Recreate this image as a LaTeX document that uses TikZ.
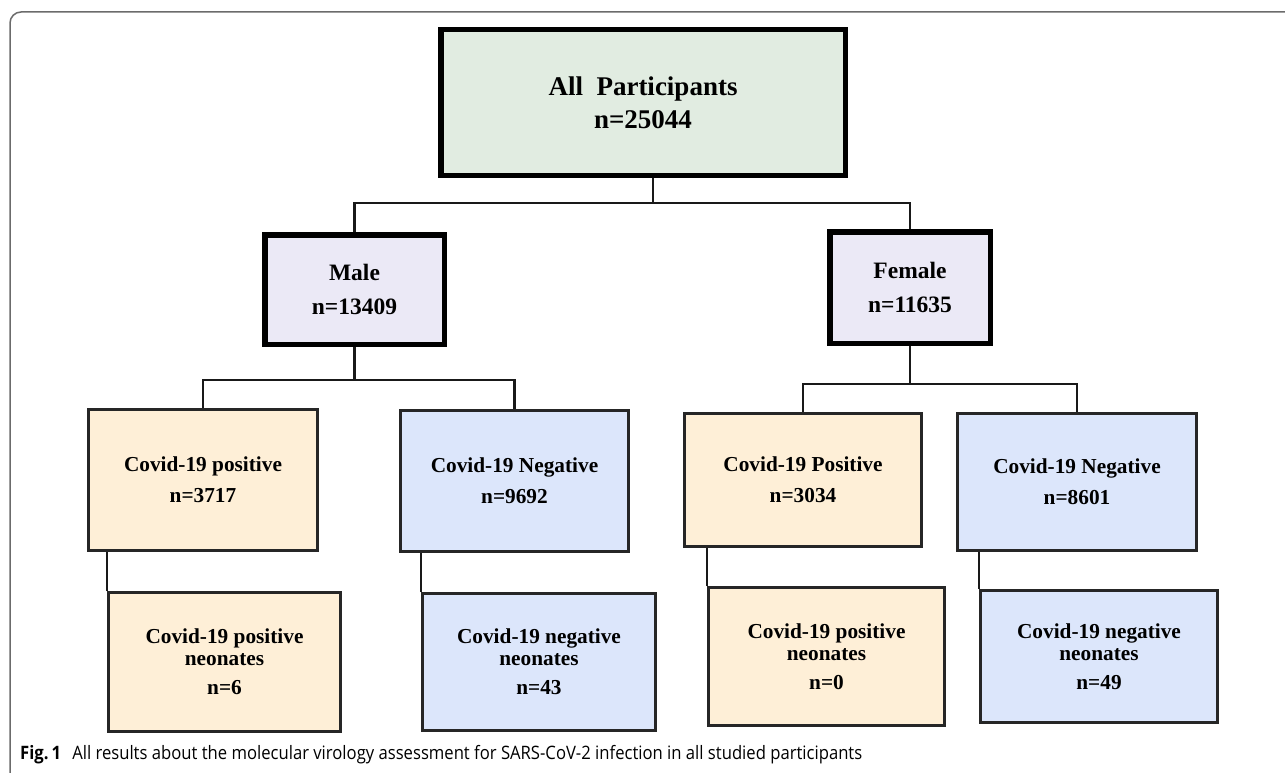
\documentclass[tikz,border=0pt]{standalone}
\usepackage{fontspec}
\setmainfont{Liberation Serif}
\newfontfamily\capfont[FakeStretch=0.9]{Open Sans}
\usetikzlibrary{calc}

\definecolor{allgreen}{HTML}{E1ECE1}
\definecolor{sexlav}{HTML}{EBE9F6}
\definecolor{pospeach}{HTML}{FEEFD7}
\definecolor{negblue}{HTML}{DCE6FB}
\definecolor{framegray}{HTML}{6B6B6B}

\begin{document}
\begin{tikzpicture}[x=1pt, y=-1pt,
  heavy/.style={draw=black, line width=5.5pt, inner sep=0pt, align=center},
  plain/.style={draw=black!85, line width=3pt, inner sep=0pt, align=center,
    font=\fontsize{21.3}{25}\selectfont\bfseries},
  link/.style={line width=2.7pt, black!90}]
  \useasboundingbox (0,0) rectangle (1285,773);

  % Figure frame (only top and left edges show)
  \draw[framegray, line width=1.5pt, rounded corners=11pt] (10,790) -- (10,12) -- (1300,12);

  % Top level
  \node[heavy, fill=allgreen, minimum width=404.5, minimum height=145.5,
    font=\fontsize{27}{33}\selectfont\bfseries] (all) at (643,102.5) {All\ \ Participants\\n=25044};

  % Sex
  \node[heavy, fill=sexlav, minimum width=179.5, minimum height=109.5,
    font=\fontsize{23.5}{28}\selectfont\bfseries] (male) at (354.5,289.5) {Male\\[6pt]n=13409};
  \node[heavy, fill=sexlav, minimum width=160.5, minimum height=111.5,
    font=\fontsize{23.5}{28}\selectfont\bfseries] (female) at (910,287.5) {Female\\[6pt]n=11635};

  % Covid-19 result
  \node[plain, fill=pospeach, minimum width=229, minimum height=141] (cpm) at (203,480) {Covid-19 positive\\[6pt]n=3717};
  \node[plain, fill=negblue, minimum width=228, minimum height=141] (cnm) at (514.5,481) {Covid-19 Negative\\[6pt]n=9692};
  \node[plain, fill=pospeach, minimum width=237, minimum height=133] (cpf) at (803,480) {Covid-19 Positive\\[6pt]n=3034};
  \node[plain, fill=negblue, minimum width=239, minimum height=137] (cnf) at (1077,482) {Covid-19 Negative\\[6pt]n=8601};

  % Neonates
  \node[plain, fill=pospeach, minimum width=232, minimum height=139] (npm) at (224.5,662) {Covid-19 positive\\[-3pt]neonates\\[4pt]n=6};
  \node[plain, fill=negblue, minimum width=233, minimum height=137] (nnm) at (539,662) {Covid-19 negative\\[-3pt]neonates\\[4pt]n=43};
  \node[plain, fill=pospeach, minimum width=236, minimum height=138] (npf) at (826.5,656.5) {Covid-19 positive\\[-3pt]neonates\\[4pt]n=0};
  \node[plain, fill=negblue, minimum width=237, minimum height=132] (nnf) at (1099,656.5) {Covid-19 negative\\[-3pt]neonates\\[4pt]n=49};

  % Elbow connectors
  \draw[link] ([xshift=10pt]all.south) -- ++(0,25) -| (male.north);
  \draw[link] ([xshift=10pt]all.south) -- ++(0,25) -| (female.north);
  \draw[link] (male.south) -- ++(0,33) -| (cpm.north);
  \draw[link] (male.south) -- ++(0,33) -| (cnm.north);
  \draw[link] (female.south) -- ++(0,38) -| (cpf.north);
  \draw[link] (female.south) -- ++(0,38) -| (cnf.north);

  % Neonate connectors hang from the left edge
  \draw[link] (npm.north west) -- (npm.north west |- cpm.south);
  \draw[link] (nnm.north west) -- (nnm.north west |- cnm.south);
  \draw[link] (npf.north west) -- (npf.north west |- cpf.south);
  \draw[link] (nnf.north west) -- (nnf.north west |- cnf.south);

  % Caption
  \node[anchor=base west, inner sep=0pt, font=\capfont\fontsize{18.5}{22}\selectfont] (cap) at (20,759)
    {\textbf{Fig.\,1}\hspace{0.6em}All results about the molecular virology assessment for SARS-CoV-2 infection in all studied participants};
\end{tikzpicture}
\end{document}
